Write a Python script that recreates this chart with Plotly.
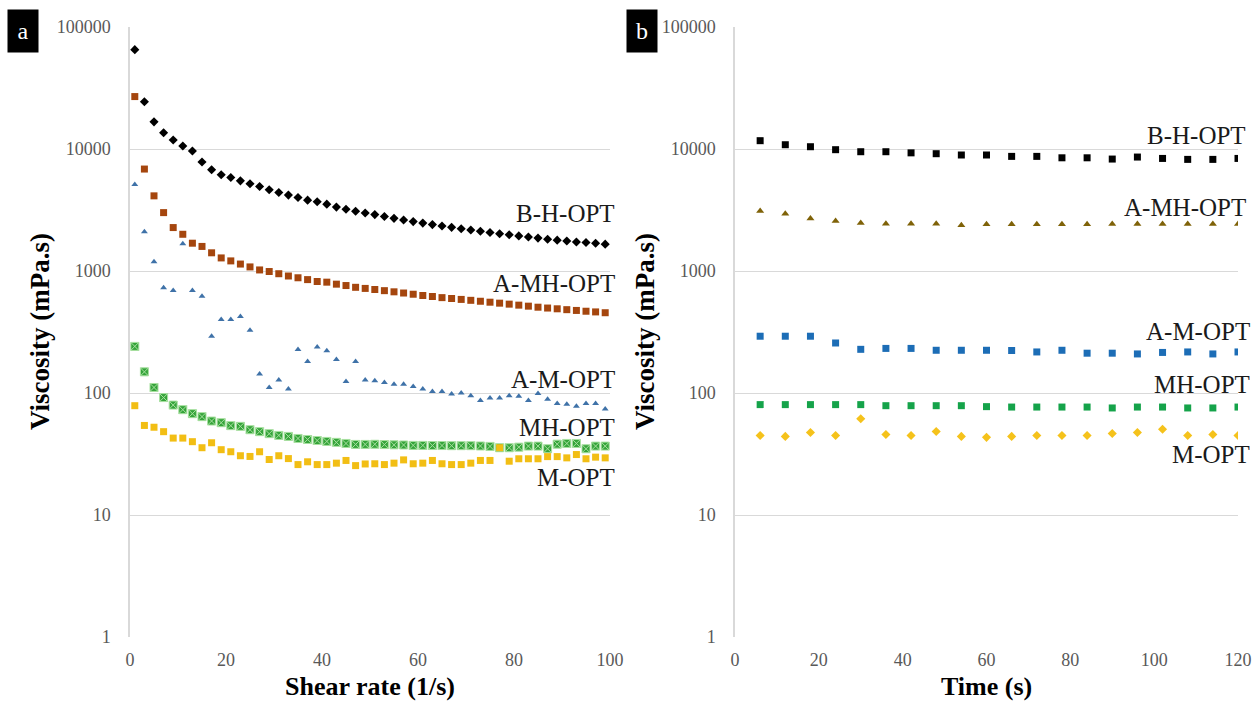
import plotly.graph_objects as go

# ---------------- data ----------------
shear_rate = list(range(1, 101, 2))  # 1/s
bh_a = [65200, 24400, 16700, 13600, 11860, 10590, 9640, 7820, 6760, 6150, 5840, 5480, 5190, 4930,
        4630, 4400, 4190, 4000, 3810, 3690, 3530, 3340, 3210, 3090,
        2990, 2900, 2800, 2700, 2620, 2540, 2470, 2400, 2340, 2280, 2220, 2170, 2120, 2070, 2020,
        1980, 1940, 1900, 1860, 1820, 1790, 1760, 1730, 1710, 1690, 1660]
amh_a = [26900, 6850, 4130, 3010, 2270, 2000, 1690, 1590, 1410, 1280, 1210, 1140, 1080, 1020,
         990, 950, 910, 880, 850, 820, 810, 780, 760, 735,
         720, 705, 690, 675, 660, 645, 630, 618, 605, 595, 585, 575, 565, 555, 545, 535, 525,
         515, 505, 497, 490, 482, 475, 468, 462, 455]
am_a = [5120, 2100, 1190, 728, 692, 1675, 692, 621, 292, 400, 400, 424, 327, 143, 111, 128,
        108, 227, 181, 238, 222, 188, 124, 181,
        128, 126, 122, 118, 118, 113, 108, 103, 103, 98, 100, 95, 87, 91, 91, 95, 94, 87, 99,
        89, 82, 81, 78, 82, 82, 74]
mh_a = [241, 149, 111, 91.7, 79.6, 73, 67.7, 64, 58.9, 57.1, 54, 53.3, 50, 48.2, 46.4, 44.9,
        44.1, 42.4, 41.6, 40.8, 40.1, 39.4, 38.6, 37.9, 37.9,
        38.0, 37.8, 37.6, 37.5, 37.2, 37.2, 37.1, 37.1, 37.0, 37.0, 37.0, 36.8, 36.5, 35.6,
        35.6, 36.0, 36.7, 36.7, 34.9, 38.1, 38.6, 38.6, 34.9, 36.7, 36.7]
m_a = [78.7, 54.2, 52.4, 48.2, 42.7, 42.7, 39.9, 35.6, 39.1, 34.3, 33, 30.6, 30.2, 33, 28.5,
       30.6, 29, 25.9, 27.3, 25.9, 25.9, 26.6, 28, 25.4, 26.2,
       26.3, 25.9, 26.6, 28.3, 26.3, 26.6, 28, 26.3, 25.9, 25.9, 26.6, 28, 28, 35.6, 27.6,
       28.9, 28.9, 28.9, 30.1, 30.1, 29.4, 31.3, 28.9, 29.8, 29.4]

time_s = list(range(6, 121, 6))
bh_b = [11700, 10840, 10440, 9870, 9500, 9500, 9300, 9150, 8930, 8930, 8700, 8700, 8470, 8470,
        8270, 8590, 8370, 8220, 8220, 8370]
amh_b = [3110, 2950, 2690, 2570, 2480, 2440, 2440, 2440, 2370, 2420, 2420, 2420, 2420, 2420,
         2430, 2430, 2430, 2430, 2430, 2430]
am_b = [292, 292, 292, 257, 228, 232, 232, 224, 224, 224, 223, 217, 224, 212, 212, 209, 215,
        217, 209, 217]
mh_b = [80.3, 80.3, 80.3, 80.3, 80.3, 78.7, 78.7, 78.7, 78.7, 77.3, 76.7, 76.7, 76.7, 76.7,
        75.4, 76.7, 76.7, 75.4, 75.4, 76.7]
m_b = [44.9, 44.1, 47.5, 44.9, 61.5, 45.7, 44.9, 48.4, 44.1, 43.3, 44.1, 44.9, 44.9, 44.9,
       46.6, 47.5, 50.4, 44.9, 45.7, 44.9]

y_ticks = [1, 10, 100, 1000, 10000, 100000]
y_tick_text = ["1", "10", "100", "1000", "10000", "100000"]
xa_ticks = [0, 20, 40, 60, 80, 100]
xb_ticks = [0, 20, 40, 60, 80, 100, 120]

# ---------------- figure ----------------
W, H = 1252, 701
SERIF = "Liberation Serif, Times New Roman, serif"
fig = go.Figure()

def add(x, y, sym, col, size, xa, ya, line=None):
    fig.add_trace(go.Scatter(x=x, y=y, mode="markers", xaxis=xa, yaxis=ya, showlegend=False,
                             marker=dict(symbol=sym, color=col, size=size,
                                         line=line or dict(width=0))))

add(shear_rate, bh_a, "diamond", "#000000", 7, "x", "y")
add(shear_rate, amh_a, "square", "#A5460E", 7, "x", "y")
add(shear_rate, am_a, "triangle-up", "#3F72A8", 6, "x", "y")
add(shear_rate, mh_a, "square-x", "#35A43A", 8, "x", "y", dict(color="#A8E0A0", width=1))
add(shear_rate, m_a, "square", "#F2BE14", 7, "x", "y")

add(time_s, bh_b, "square", "#000000", 7, "x2", "y2")
add(time_s, amh_b, "triangle-up", "#7F6208", 7, "x2", "y2")
add(time_s, am_b, "square", "#1C6DB6", 7, "x2", "y2")
add(time_s, mh_b, "square", "#15A34A", 7, "x2", "y2")
add(time_s, m_b, "diamond", "#F5C21B", 7, "x2", "y2")

tick_font = dict(family=SERIF, size=18, color="#595959")
grid = "#D9D9D9"
ydom = [1 - 637 / H, 1 - 27 / H]

yax = dict(type="log", range=[0, 5], tickvals=y_ticks, ticktext=y_tick_text,
           showgrid=True, gridcolor=grid, gridwidth=1, showline=True, linecolor=grid,
           linewidth=1.5, zeroline=False, ticks="", tickfont=tick_font,
           ticklabelstandoff=14, domain=ydom, automargin=False)
xcommon = dict(showgrid=False, showline=False, zeroline=False, ticks="",
               tickfont=tick_font, ticklabelstandoff=10, automargin=False)

fig.update_layout(
    width=W, height=H, margin=dict(l=0, r=0, t=0, b=0, autoexpand=False),
    paper_bgcolor="white", plot_bgcolor="white",
    xaxis=dict(range=[0, 100], tickvals=xa_ticks, domain=[130 / W, 610 / W], anchor="y", **xcommon),
    yaxis=dict(anchor="x", **yax),
    xaxis2=dict(range=[0, 120], tickvals=xb_ticks, domain=[735 / W, 1238 / W], anchor="y2", **xcommon),
    yaxis2=dict(anchor="x2", **yax),
)

def px(x, y):
    return x / W, 1 - y / H

anns = []
def text(x, y, s, size=25, xanchor="right", bold=False, angle=0, color="#1a1a1a"):
    xx, yy = px(x, y)
    anns.append(dict(x=xx, y=yy, xref="paper", yref="paper", text=f"<b>{s}</b>" if bold else s,
                     showarrow=False, xanchor=xanchor, yanchor="middle", textangle=angle,
                     borderpad=0, font=dict(family=SERIF, size=size, color=color)))

# series labels panel a
text(616, 213, "B-H-OPT")
text(616, 284, "A-MH-OPT")
text(616, 379, "A-M-OPT")
text(616, 428, "MH-OPT")
text(616, 477, "M-OPT")
# series labels panel b
text(1247, 135, "B-H-OPT")
text(1247, 208, "A-MH-OPT")
text(1251, 331, "A-M-OPT")
text(1251, 384, "MH-OPT")
text(1251, 454, "M-OPT")

# axis titles
text(40, 332, "Viscosity (mPa.s)", size=27, xanchor="center", bold=True, angle=-90, color="#000")
text(645, 332, "Viscosity (mPa.s)", size=27, xanchor="center", bold=True, angle=-90, color="#000")
text(370, 686, "Shear rate (1/s)", size=26, xanchor="center", bold=True, color="#000")
text(986, 686, "Time (s)", size=26, xanchor="center", bold=True, color="#000")

# panel letters
for lx, letter in [(23, "a"), (642, "b")]:
    xx, yy = px(lx, 31)
    anns.append(dict(x=xx, y=yy, xref="paper", yref="paper", text=letter, showarrow=False,
                     xanchor="center", yanchor="middle", bgcolor="#000000", borderpad=0,
                     width=30, height=42, font=dict(family=SERIF, size=24, color="white")))

fig.update_layout(annotations=anns)
fig.write_html("out.html")
